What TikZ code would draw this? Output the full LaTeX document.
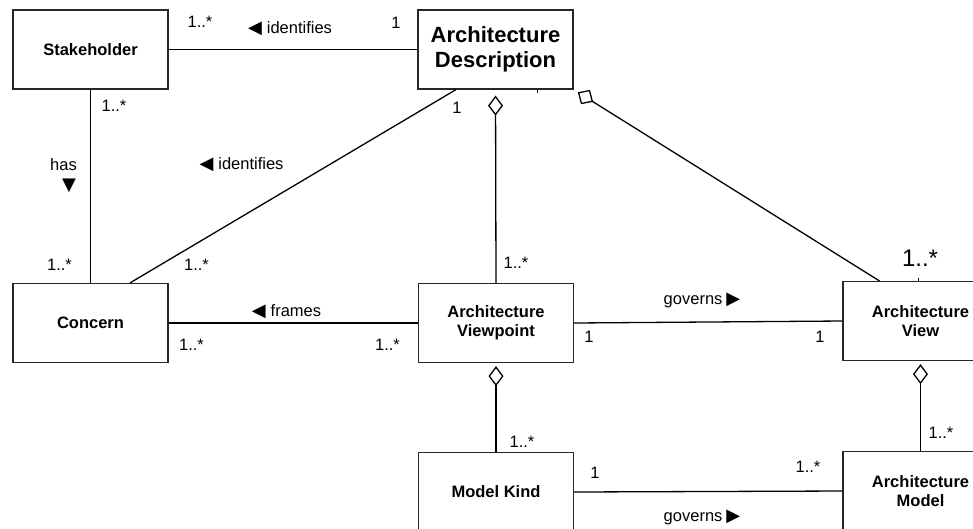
\documentclass[tikz,border=0pt]{standalone}
\usepackage{fontspec}
\setmainfont{Liberation Sans}
\newfontfamily\symfont{DejaVu Sans}
\usetikzlibrary{arrows.meta}
% direction markers for association names
\newcommand\mytriL{{\symfont\fontsize{18}{18}\selectfont ◀}}
\newcommand\mytriR{{\symfont\fontsize{18}{18}\selectfont ▶}}
\newcommand\mytriD{{\symfont\fontsize{18}{18}\selectfont ▼}}
\begin{document}
\begin{tikzpicture}[x=1pt,y=-1pt,
  cls/.style={draw=black!85, line width=1.2pt, minimum width=155pt, minimum height=79pt,
    inner sep=0pt, align=center, font=\bfseries\fontsize{16.5}{19}\selectfont},
  assoc/.style={line width=1.3pt},
  agg/.style={line width=1.3pt, {Diamond[open,length=20pt,width=15pt]}-},
  aggsq/.style={line width=1.3pt, {Diamond[open,length=18pt,width=17pt]}-},
  lbl/.style={inner sep=0pt, font=\fontsize{16.5}{19}\selectfont},
]
\clip (0,0) rectangle (973,528);
\fill[white] (0,0) rectangle (973,528);

% classes
\node[cls] (sh) at (90.5,49.5) {Stakeholder};
\node[cls, font=\bfseries\fontsize{22}{25}\selectfont] (ad) at (495.5,49.5) {Architecture\\Description};
\node[cls] (con) at (90.5,323) {Concern};
\node[cls] (avp) at (496,323) {Architecture\\Viewpoint};
\node[cls] (av) at (920.5,321) {Architecture\\View};
\node[cls] (mk) at (496,492) {Model Kind};
\node[cls] (am) at (920.5,491) {Architecture\\Model};

% associations
\draw[assoc] (sh) -- (ad);
\draw[assoc] (sh) -- (con);
\draw[assoc] ([xshift=39.5pt]con.north) -- ([xshift=-39.5pt]ad.south);
\draw[assoc] (con) -- (avp);
\draw[assoc] (avp.east) -- (av.west);
\draw[assoc] (mk.east) -- (am.west);

% aggregations
\draw[agg, shorten <=6pt] (ad.south) -- (avp.north);
\draw[aggsq, shorten <=5pt] (ad.south east) -- ([xshift=37pt]av.north west);
\draw[agg, shorten <=3pt] (avp.south) -- (mk.north);
\draw[agg, shorten <=3pt] (av.south) -- (am.north);

% small marks on the box edges
\draw[line width=1pt] ([xshift=41.5pt]ad.south) -- ++(0,3);
\draw[line width=1pt] ([xshift=-2.5pt]av.north) -- ++(0,-3);

% multiplicities and association names
\node[lbl] (m1) at (200,22) {1..*};
\node[lbl, anchor=base] (n1) at (290,33) {\mytriL\hspace{5pt}identifies};
\node[lbl] (m2) at (396,23) {1};
\node[lbl] (m3) at (114,106) {1..*};
\node[lbl] (n2) at (63.5,165) {has};
\node[lbl] (n2t) at (69,186) {\mytriD};
\node[lbl] (m4) at (59.5,265) {1..*};
\node[lbl] (m5) at (196.5,265) {1..*};
\node[lbl, anchor=base] (n3) at (241.5,169) {\mytriL\hspace{5pt}identifies};
\node[lbl] (m6) at (457,108) {1};
\node[lbl] (m7) at (516,263) {1..*};
\node[lbl, font=\fontsize{24}{28}\selectfont] (m8) at (920,258) {1..*};
\node[lbl, anchor=base] (n4) at (286.5,316) {\mytriL\hspace{5pt}frames};
\node[lbl] (m9) at (191.5,345) {1..*};
\node[lbl] (m10) at (387.5,345) {1..*};
\node[lbl, anchor=base] (n5) at (702,304) {governs\hspace{4pt}\mytriR};
\node[lbl] (m11) at (589,337) {1};
\node[lbl] (m12) at (820,337) {1};
\node[lbl] (m13) at (522,442) {1..*};
\node[lbl] (m14) at (941,433) {1..*};
\node[lbl] (m15) at (595,473) {1};
\node[lbl] (m16) at (808,467) {1..*};
\node[lbl, anchor=base] (n6) at (702,521) {governs\hspace{4pt}\mytriR};
\end{tikzpicture}
\end{document}
